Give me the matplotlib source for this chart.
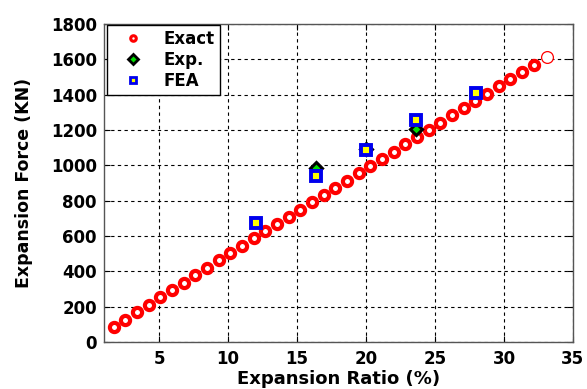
import matplotlib.pyplot as plt
from matplotlib.lines import Line2D
import numpy as np

plt.rcParams['font.family'] = ['DejaVu Sans']
plt.rcParams['font.weight'] = 'bold'

# exact solution
exact_ratio = [1.70, 2.55, 3.39, 4.24, 5.08, 5.93, 6.78, 7.62, 8.47, 9.32,
               10.16, 11.01, 11.85, 12.70, 13.55, 14.39, 15.24, 16.08, 16.93, 17.78,
               18.62, 19.47, 20.32, 21.16, 22.01, 22.85, 23.70, 24.55, 25.39, 26.24,
               27.08, 27.93, 28.78, 29.62, 30.47, 31.32, 32.16, 33.10]
exact_force = [84, 126, 168, 210, 252, 294, 336, 378, 420, 462,
               503, 545, 586, 627, 668, 709, 750, 791, 832, 873,
               914, 955, 996, 1037, 1078, 1119, 1160, 1201, 1242, 1283,
               1324, 1365, 1406, 1447, 1488, 1529, 1570, 1615]

# experiment
exp_ratio = [16.4, 20.0, 23.6]
exp_force = [985, 1090, 1205]

# finite element
fea_ratio = [12.0, 16.4, 20.0, 23.6, 28.0]
fea_force = [675, 940, 1085, 1258, 1410]

fig = plt.figure(figsize=(5.87, 3.89), dpi=100)
ax = fig.add_axes([0.177, 0.121, 0.799, 0.817])

ax.plot(exact_ratio[:-1], exact_force[:-1], 'o', ms=6.6, mfc='white', mec='red', mew=3.0,
        linestyle='none', zorder=3)
ax.plot(exact_ratio[-1:], exact_force[-1:], 'o', ms=8.5, mfc='white', mec='red', mew=0.9,
        linestyle='none', zorder=3)
ax.plot(exp_ratio, exp_force, 'D', ms=6.5, mfc='#00dd00', mec='black', mew=2.2,
        linestyle='none', zorder=4)
ax.plot(fea_ratio, fea_force, 's', ms=6.5, mfc='yellow', mec='#0000ee', mew=2.8,
        linestyle='none', zorder=5)

ax.set_xlim(1, 35)
ax.set_ylim(0, 1800)
ax.set_xticks(np.arange(5, 36, 5))
ax.set_yticks(np.arange(0, 1801, 200))
ax.grid(True, color='black', linestyle=(0, (3, 3)), linewidth=0.8)
ax.tick_params(direction='in', labelsize=12, length=4, width=0.8,
               top=True, right=True)
ax.tick_params(axis='x', pad=6)
ax.tick_params(axis='y', pad=5)
for lab in ax.get_xticklabels() + ax.get_yticklabels():
    lab.set_fontweight('bold')
for s in ax.spines.values():
    s.set_color('#555555')
    s.set_linewidth(1.0)

ax.set_xlabel('Expansion Ratio (%)', fontsize=13, fontweight='bold', labelpad=1)
ax.set_ylabel('Expansion Force (KN)', fontsize=12.5, fontweight='bold', labelpad=13)

handles = [
    Line2D([], [], marker='o', ms=4, mfc='white', mec='red', mew=2.2, linestyle='none'),
    Line2D([], [], marker='D', ms=5, mfc='#00dd00', mec='black', mew=2.0, linestyle='none'),
    Line2D([], [], marker='s', ms=4.5, mfc='yellow', mec='#0000ee', mew=2.0, linestyle='none'),
]
leg = ax.legend(handles, ['Exact', 'Exp.', 'FEA'], loc='upper left',
                bbox_to_anchor=(0.006, 0.998), fontsize=12, frameon=True,
                fancybox=False, edgecolor='black', framealpha=1, borderpad=0.3,
                handlelength=2.6, handletextpad=0.5, labelspacing=0.18,
                borderaxespad=0.0)
leg.get_frame().set_linewidth(1.0)
for t in leg.get_texts():
    t.set_fontweight('bold')

fig.savefig('out.png', dpi=100)
